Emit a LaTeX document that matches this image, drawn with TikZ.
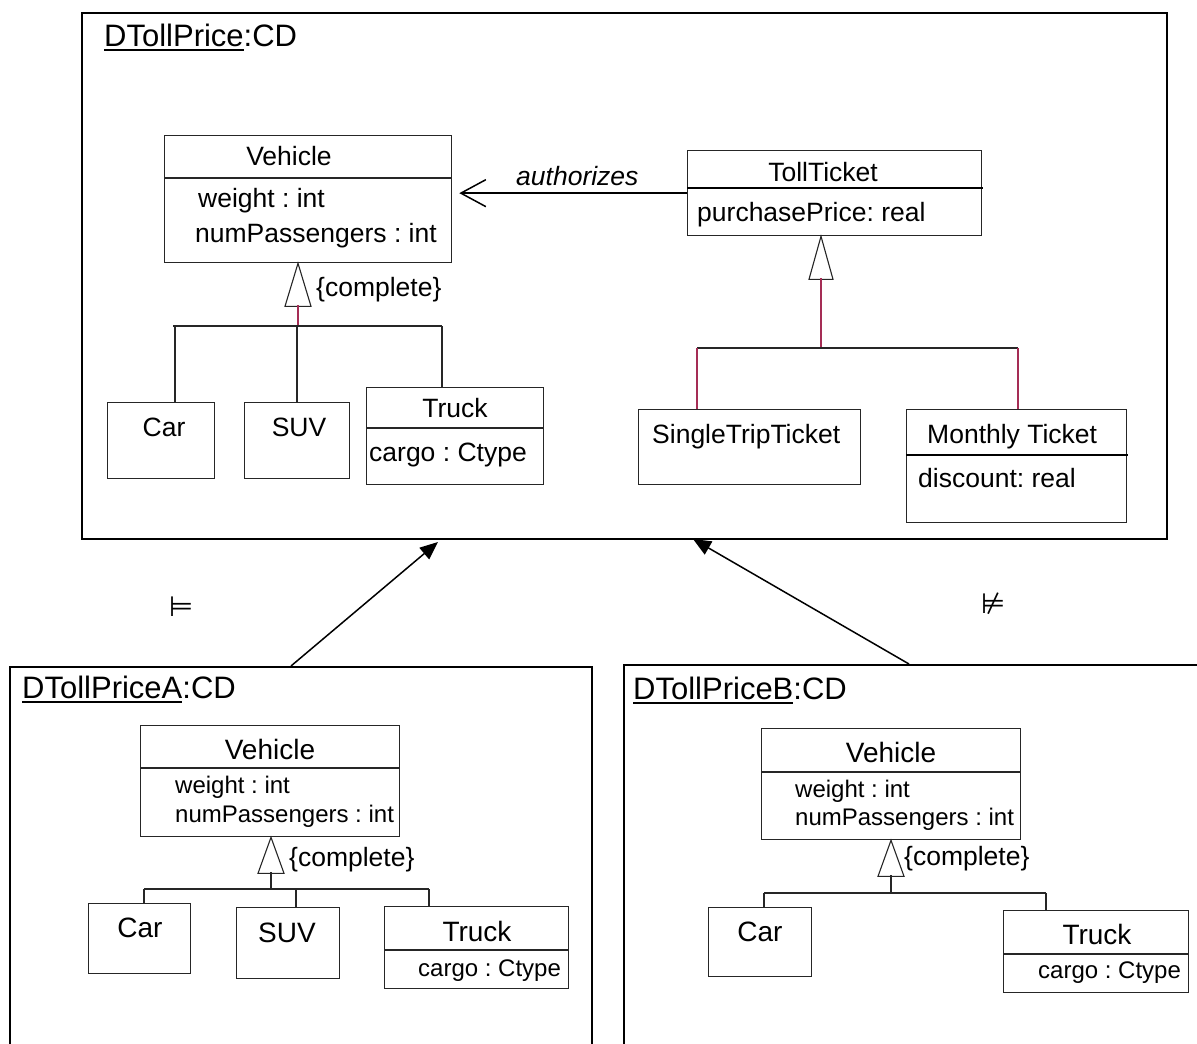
\documentclass[tikz,border=0pt]{standalone}
\usepackage{fontspec}
\setmainfont{Liberation Sans}
\newfontfamily\symfont{DejaVu Sans}
\usetikzlibrary{arrows.meta}
\frenchspacing

\definecolor{genpink}{RGB}{165,45,85}
% underlined diagram name
\newcommand{\cdname}[1]{\setbox0\hbox{#1}\rlap{\rule[-5pt]{\wd0}{2.5pt}}\box0}

\begin{document}
\begin{tikzpicture}[
    x=1pt, y=-1pt,
    framebox/.style={draw=black, line width=2pt, inner sep=0pt, anchor=north west},
    cls/.style={draw=black!85, line width=1.3pt, inner sep=0pt, anchor=north west},
    sep/.style={draw=black!85, line width=1.1pt},
    sepbold/.style={draw=black, line width=2pt},
    big/.style={font=\fontsize{26.5}{30}\selectfont, inner sep=0pt},
    small/.style={font=\fontsize{24}{28}\selectfont, inner sep=0pt},
    clsname/.style={font=\fontsize{28}{32}\selectfont, inner sep=0pt},
    cdtitle/.style={font=\fontsize{31}{36}\selectfont, inner sep=0pt, anchor=base west},
    gen/.style={draw=black!85, line width=1.1pt, fill=white},
    link/.style={draw=black!85, line width=1.1pt},
    pinkline/.style={draw=genpink, line width=1.1pt},
    assoc/.style={draw=black, line width=1.5pt,
      -{Straight Barb[length=25pt, width=27pt, line width=1.5pt]}},
    refine/.style={draw=black, line width=1.5pt, -{Triangle[length=18pt, width=15pt]}},
    relsym/.style={font=\symfont\fontsize{28}{32}\selectfont, inner sep=0pt}]

    \useasboundingbox (0,0) rectangle (1197,1044);
    \clip (0,0) rectangle (1197,1044);

    % ---------- DTollPrice ----------
    \node[framebox, minimum width=1085pt, minimum height=526pt] (frameT) at (81,12) {};
    \node[cdtitle] (titleT) at (104,46) {\cdname{DTollPrice}:CD};

    \node[cls, minimum width=287pt, minimum height=127pt] (veh) at (164,135) {};
    \draw[sep] (164,178) -- (451,178);
    \node[big, anchor=base] (vehN) at (289,165.5) {Vehicle};
    \node[big, anchor=base west] (vehA1) at (198,207.5) {weight : int};
    \node[big, anchor=base west] (vehA2) at (195,242.5) {numPassengers : int};

    \node[cls, minimum width=107pt, minimum height=76pt] (car) at (107,402) {};
    \node[big, anchor=base] (carN) at (164,436.5) {Car};
    \node[cls, minimum width=105pt, minimum height=76pt] (suv) at (244,402) {};
    \node[big, anchor=base] (suvN) at (299,436.5) {SUV};
    \node[cls, minimum width=177pt, minimum height=97pt] (truck) at (366,387) {};
    \draw[sep] (366,428) -- (543,428);
    \node[big, anchor=base] (truckN) at (455,417.5) {Truck};
    \node[big, anchor=base west] (truckA) at (369,461.5) {cargo : Ctype};

    \draw[gen] (veh.south -| 298,0) -- ++(-13,43) -- ++(26,0) -- cycle;
    \node[big, anchor=base west] (vehC) at (316,296.5) {\{complete\}};
    \draw[pinkline] (298,305) -- (298,326);
    \draw[link] (173,326) -- (442,326);
    \draw[link] (175,326) -- (car.north -| 175,0);
    \draw[link] (297,326) -- (suv.north -| 297,0);
    \draw[link] (442,326) -- (truck.north -| 442,0);

    \node[cls, minimum width=294pt, minimum height=85pt] (toll) at (687,150) {};
    \draw[sepbold] (687,188) -- (983,188);
    \node[big, anchor=base] (tollN) at (823,181.5) {TollTicket};
    \node[big, anchor=base west] (tollA) at (697,221.5) {purchasePrice: real};

    \draw[assoc] (toll.west) -- ([xshift=7pt]toll.west -| veh.east);
    \node[big, anchor=base west, font=\fontsize{26.5}{30}\selectfont\itshape] (auth) at (516,185.5) {authorizes};

    \node[cls, minimum width=222pt, minimum height=75pt] (single) at (638,409) {};
    \node[big, anchor=base west] (singleN) at (652,443.5) {SingleTripTicket};
    \node[cls, minimum width=220pt, minimum height=113pt] (monthly) at (906,409) {};
    \draw[sepbold] (906,455) -- (1128,455);
    \node[big, anchor=base west] (monthlyN) at (927,443.5) {Monthly Ticket};
    \node[big, anchor=base west] (monthlyA) at (918,487.5) {discount: real};

    \draw[gen] (toll.south -| 821,0) -- ++(-12,43) -- ++(24,0) -- cycle;
    \draw[pinkline] (821,278) -- (821,348);
    \draw[link] (697,348) -- (1018,348);
    \draw[pinkline] (697,348) -- (single.north -| 697,0);
    \draw[pinkline] (1018,348) -- (monthly.north -| 1018,0);

    % ---------- DTollPriceA ----------
    \node[framebox, minimum width=582pt, minimum height=430pt] (frameA) at (9,666) {};
    \node[cdtitle] (titleA) at (22,698) {\cdname{DTollPriceA}:CD};

    \node[cls, minimum width=259pt, minimum height=111pt] (vehA) at (140,725) {};
    \draw[sep] (140,768) -- (399,768);
    \node[clsname, anchor=base] (vehAN) at (270,759) {Vehicle};
    \node[small, anchor=base west] (vehAA1) at (175,793.6) {weight : int};
    \node[small, anchor=base west] (vehAA2) at (175,822.6) {numPassengers : int};

    \node[cls, minimum width=102pt, minimum height=70pt] (carA) at (88,903) {};
    \node[clsname, anchor=base] (carAN) at (140,937) {Car};
    \node[cls, minimum width=103pt, minimum height=71pt] (suvA) at (236,907) {};
    \node[clsname, anchor=base] (suvAN) at (287,942) {SUV};
    \node[cls, minimum width=184pt, minimum height=82pt] (truckA) at (384,906) {};
    \draw[sep] (384,950) -- (568,950);
    \node[clsname, anchor=base] (truckAN) at (477,941) {Truck};
    \node[small, anchor=base west] (truckAA) at (418,976.6) {cargo : Ctype};

    \draw[gen] (vehA.south -| 271,0) -- ++(-13,36) -- ++(26,0) -- cycle;
    \node[big, anchor=base west] (vehAC) at (289,866) {\{complete\}};
    \draw[link] (271,872) -- (271,889);
    \draw[link] (144,889) -- (429,889);
    \draw[link] (144,889) -- (carA.north -| 144,0);
    \draw[link] (296,889) -- (suvA.north -| 296,0);
    \draw[link] (429,889) -- (truckA.north -| 429,0);

    % ---------- DTollPriceB ----------
    \node[framebox, minimum width=620pt, minimum height=430pt] (frameB) at (623,664) {};
    \node[cdtitle] (titleB) at (633,699) {\cdname{DTollPriceB}:CD};

    \node[cls, minimum width=259pt, minimum height=111pt] (vehB) at (761,728) {};
    \draw[sep] (761,772) -- (1020,772);
    \node[clsname, anchor=base] (vehBN) at (891,762) {Vehicle};
    \node[small, anchor=base west] (vehBA1) at (795,797.6) {weight : int};
    \node[small, anchor=base west] (vehBA2) at (795,825.6) {numPassengers : int};

    \node[cls, minimum width=103pt, minimum height=69pt] (carB) at (708,907) {};
    \node[clsname, anchor=base] (carBN) at (760,941) {Car};
    \node[cls, minimum width=185pt, minimum height=82pt] (truckB) at (1003,910) {};
    \draw[sep] (1003,954) -- (1188,954);
    \node[clsname, anchor=base] (truckBN) at (1097,944) {Truck};
    \node[small, anchor=base west] (truckBA) at (1038,978.6) {cargo : Ctype};

    \draw[gen] (vehB.south -| 891,0) -- ++(-13,36) -- ++(26,0) -- cycle;
    \node[big, anchor=base west] (vehBC) at (904,865) {\{complete\}};
    \draw[link] (891,875) -- (891,893);
    \draw[link] (764,893) -- (1046,893);
    \draw[link] (764,893) -- (carB.north -| 764,0);
    \draw[link] (1046,893) -- (truckB.north -| 1046,0);

    % ---------- refinement arrows ----------
    \coordinate (tipA) at (438,542);
    \coordinate (tipB) at (693,539);
    \draw[refine] ([xshift=-10pt]frameA.north) -- (tipA);
    \draw[refine] ([xshift=-25pt]frameB.north) -- (tipB);
    \node[relsym] (sat) at (181,607) {⊨};
    \node[relsym] (nsat) at (993,604) {⊭};
\end{tikzpicture}
\end{document}
